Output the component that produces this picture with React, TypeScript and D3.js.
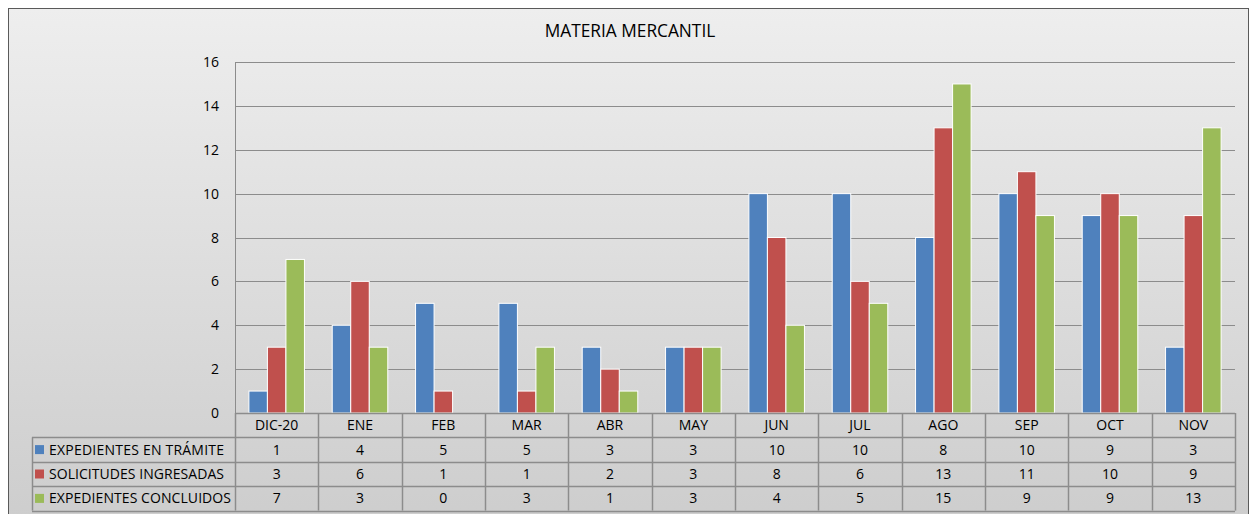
import React, { useEffect, useRef } from 'react'
import * as d3 from 'd3'

const months = ['DIC-20', 'ENE', 'FEB', 'MAR', 'ABR', 'MAY', 'JUN', 'JUL', 'AGO', 'SEP', 'OCT', 'NOV']
const seriesNames = ['EXPEDIENTES EN TRÁMITE', 'SOLICITUDES INGRESADAS', 'EXPEDIENTES CONCLUIDOS']
const enTramite = [1, 4, 5, 5, 3, 3, 10, 10, 8, 10, 9, 3]
const ingresadas = [3, 6, 1, 1, 2, 3, 8, 6, 13, 11, 10, 9]
const concluidos = [7, 3, 0, 3, 1, 3, 4, 5, 15, 9, 9, 13]
const yTicks = [0, 2, 4, 6, 8, 10, 12, 14, 16]
const colors = ['#4F81BD', '#C0504D', '#9BBB59']

const FONT = '"Open Sans", sans-serif'

export default function App() {
  const svgRef = useRef<SVGSVGElement>(null)

  useEffect(() => {
    if (!svgRef.current) return
    const svg = d3.select(svgRef.current)
    svg.selectAll('*').remove()

    const width = 1250
    const height = 514
    const plot = { left: 235, right: 1235, top: 62, bottom: 413 }
    const rowH = 24.4
    const tableLeft = 32
    const series = [enTramite, ingresadas, concluidos]
    // widths of the legend labels in the table, to match the original's font
    const labelWidths = [175, 175, 182]

    const defs = svg.append('defs')
    const grad = defs
      .append('linearGradient')
      .attr('id', 'bg')
      .attr('x1', 0)
      .attr('y1', 0)
      .attr('x2', 0)
      .attr('y2', 1)
    grad.append('stop').attr('offset', '0%').attr('stop-color', '#eeeeee')
    grad.append('stop').attr('offset', '100%').attr('stop-color', '#cdcdcd')

    svg
      .append('rect')
      .attr('x', 8.5)
      .attr('y', 8.5)
      .attr('width', width - 10)
      .attr('height', height)
      .attr('fill', 'url(#bg)')
      .attr('stroke', '#5a5a5a')
      .attr('stroke-width', 1)

    svg
      .append('text')
      .attr('x', 630)
      .attr('y', 37)
      .attr('text-anchor', 'middle')
      .style('font-family', FONT)
      .style('font-size', '17.3px')
      .style('fill', '#000')
      .text('MATERIA MERCANTIL')

    const x = d3.scaleBand().domain(months).range([plot.left, plot.right]).paddingInner(0).paddingOuter(0)
    const y = d3.scaleLinear().domain([0, 16]).range([plot.bottom, plot.top])

    const bw = x.bandwidth() / 4.5
    const inner = d3
      .scaleBand()
      .domain(['0', '1', '2'])
      .range([0.75 * bw, 3.75 * bw])

    // gridlines
    svg
      .append('g')
      .selectAll('line')
      .data(yTicks.slice(1))
      .join('line')
      .attr('x1', plot.left)
      .attr('x2', plot.right)
      .attr('y1', (d) => Math.round(y(d)) + 0.5)
      .attr('y2', (d) => Math.round(y(d)) + 0.5)
      .attr('stroke', '#8c8c8c')
      .attr('stroke-width', 1)

    // y labels
    svg
      .append('g')
      .selectAll('text')
      .data(yTicks)
      .join('text')
      .attr('x', 219)
      .attr('y', (d) => y(d) + 5)
      .attr('text-anchor', 'end')
      .style('font-family', FONT)
      .style('font-size', '14px')
      .style('fill', '#000')
      .text((d) => d)

    // bars
    series.forEach((vals, si) => {
      svg
        .append('g')
        .selectAll('rect')
        .data(vals)
        .join('rect')
        .attr('x', (_, i) => (x(months[i]) || 0) + (inner(String(si)) || 0))
        .attr('y', (d) => y(d))
        .attr('width', inner.bandwidth())
        .attr('height', (d) => plot.bottom - y(d))
        .attr('fill', colors[si])
        .attr('stroke', (d) => (d > 0 ? '#ffffff' : 'none'))
        .attr('stroke-width', 1)
    })

    // y axis line
    svg
      .append('line')
      .attr('x1', plot.left + 0.5)
      .attr('x2', plot.left + 0.5)
      .attr('y1', plot.top)
      .attr('y2', plot.bottom)
      .attr('stroke', '#8c8c8c')

    // data table
    const t = svg.append('g')
    const tableBottom = plot.bottom + rowH * 4
    const lineColor = '#8c8c8c'

    t.append('line')
      .attr('x1', plot.left)
      .attr('x2', plot.right)
      .attr('y1', plot.bottom + 0.5)
      .attr('y2', plot.bottom + 0.5)
      .attr('stroke', lineColor)
      .attr('stroke-width', 1.5)
    d3.range(1, 5).forEach((r) => {
      const yy = Math.round(plot.bottom + rowH * r) + 0.5
      t.append('line')
        .attr('x1', tableLeft)
        .attr('x2', plot.right)
        .attr('y1', yy)
        .attr('y2', yy)
        .attr('stroke', lineColor)
        .attr('stroke-width', 1.5)
    })
    const vx = months.map((m) => x(m) || 0).concat([plot.right])
    vx.forEach((xx) => {
      t.append('line')
        .attr('x1', Math.round(xx) + 0.5)
        .attr('x2', Math.round(xx) + 0.5)
        .attr('y1', plot.bottom)
        .attr('y2', tableBottom)
        .attr('stroke', lineColor)
        .attr('stroke-width', 1.5)
    })
    t.append('line')
      .attr('x1', tableLeft + 0.5)
      .attr('x2', tableLeft + 0.5)
      .attr('y1', plot.bottom + rowH)
      .attr('y2', tableBottom)
      .attr('stroke', lineColor)
      .attr('stroke-width', 1.5)

    t.selectAll('text.month')
      .data(months)
      .join('text')
      .attr('class', 'month')
      .attr('x', (d) => (x(d) || 0) + x.bandwidth() / 2)
      .attr('y', plot.bottom + rowH / 2 + 5)
      .attr('text-anchor', 'middle')
      .style('font-family', FONT)
      .style('font-size', '14px')
      .style('fill', '#000')
      .text((d) => d)

    series.forEach((vals, si) => {
      const rowY = plot.bottom + rowH * (si + 1)
      t.append('rect')
        .attr('x', 35)
        .attr('y', rowY + rowH / 2 - 4.5)
        .attr('width', 9)
        .attr('height', 9)
        .attr('fill', colors[si])
      t.append('text')
        .attr('x', 49)
        .attr('y', rowY + rowH / 2 + 5)
        .attr('textLength', labelWidths[si])
        .style('font-family', FONT)
        .style('font-size', '14px')
        .style('fill', '#000')
        .text(seriesNames[si])
      t.append('g')
        .selectAll('text')
        .data(vals)
        .join('text')
        .attr('x', (_, i) => (x(months[i]) || 0) + x.bandwidth() / 2)
        .attr('y', rowY + rowH / 2 + 5)
        .attr('text-anchor', 'middle')
        .style('font-family', FONT)
        .style('font-size', '14px')
        .style('fill', '#000')
        .text((d) => d)
    })
  }, [])

  return (
    <svg
      ref={svgRef}
      width={1250}
      height={514}
      style={{ position: 'absolute', left: 0, top: 0, display: 'block' }}
    />
  )
}
